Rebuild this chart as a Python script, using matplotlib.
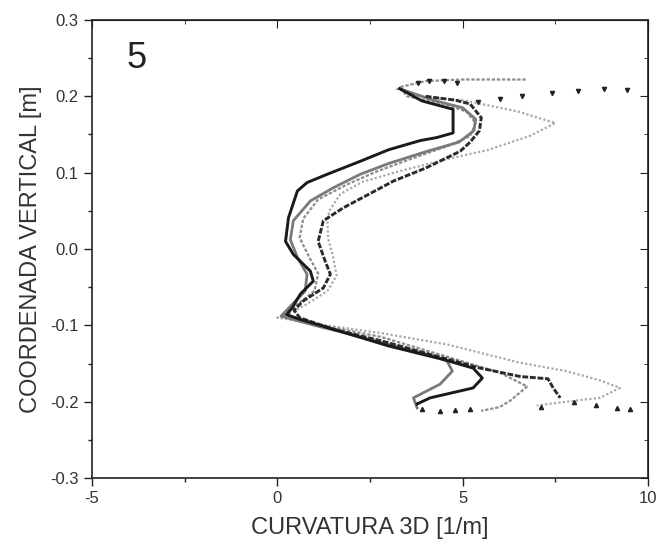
import matplotlib
matplotlib.use("Agg")
import matplotlib.pyplot as plt
from matplotlib.ticker import MultipleLocator, FormatStrFormatter

plt.rcParams.update({"font.family": ["Liberation Sans", "DejaVu Sans"]})

# curve 1 - black, leftmost in the middle section
c1_x = [3.3, 3.9, 4.74, 4.74, 4.74, 4.3, 3.85, 3.0, 2.24, 1.35, 0.8, 0.54, 0.3, 0.22, 0.43, 0.89,
        0.97, 0.62, 0.4, 0.25, 0.6, 1.5, 3.0, 4.5, 5.28, 5.53, 5.28, 4.12, 3.77]
c1_y = [0.21, 0.194, 0.183, 0.167, 0.152, 0.146, 0.142, 0.13, 0.115, 0.098, 0.087, 0.076, 0.041, 0.01,
        -0.007, -0.029, -0.042, -0.059, -0.077, -0.086, -0.092, -0.105, -0.127, -0.145, -0.156,
        -0.169, -0.182, -0.195, -0.203]

# curve 2 - dark, rightmost in the middle section
c2_x = [4.0, 4.8, 5.2, 5.5, 5.45, 5.2, 4.93, 4.0, 3.13, 2.4, 1.78, 1.24, 1.1, 1.29, 1.43, 1.24,
        0.7, 0.45, 0.6, 1.5, 2.78, 4.12, 5.47, 6.55, 7.3, 7.44, 7.63]
c2_y = [0.2, 0.195, 0.19, 0.172, 0.155, 0.14, 0.128, 0.106, 0.089, 0.07, 0.054, 0.037, 0.01,
        -0.016, -0.033, -0.051, -0.068, -0.08, -0.09, -0.105, -0.12, -0.138, -0.156, -0.167,
        -0.17, -0.182, -0.195]

# curve 3 - grey
c3_x = [3.3, 4.2, 5.0, 5.35, 5.3, 4.9, 4.04, 3.0, 2.24, 1.5, 0.89, 0.43, 0.35, 0.55, 0.8, 0.75,
        0.35, 0.1, 1.0, 2.0, 3.0, 4.2, 4.58, 4.72, 4.39, 3.67, 3.77]
c3_y = [0.21, 0.195, 0.185, 0.17, 0.155, 0.14, 0.128, 0.112, 0.098, 0.08, 0.063, 0.037, 0.012,
        -0.012, -0.033, -0.055, -0.075, -0.088, -0.1, -0.112, -0.125, -0.14, -0.147, -0.16,
        -0.177, -0.195, -0.208]

# curve 4 - light grey, widest loops
c4_x = [3.2, 4.0, 5.0, 5.5, 6.5, 7.5, 6.8, 5.7, 4.6, 3.3, 2.3, 1.7, 1.4, 1.35, 1.37, 1.5, 1.6,
        1.35, 0.8, 0.3, 0.0, 1.3, 2.78, 4.58, 6.55, 7.8, 8.7, 9.24, 8.7, 7.8, 7.0]
c4_y = [0.21, 0.198, 0.195, 0.19, 0.18, 0.165, 0.148, 0.13, 0.118, 0.102, 0.088, 0.072, 0.05,
        0.037, 0.014, -0.01, -0.035, -0.055, -0.072, -0.085, -0.09, -0.1, -0.11, -0.125, -0.149,
        -0.16, -0.172, -0.182, -0.195, -0.2, -0.205]

# curve 5 - mid grey
c5_x = [6.7, 6.0, 5.0, 4.0, 3.3, 3.5, 4.5, 5.1, 5.35, 5.2, 4.6, 3.6, 2.7, 1.9, 1.1, 0.7, 0.6,
        0.85, 1.1, 1.0, 0.55, 0.2, 1.2, 2.78, 4.5, 6.0, 6.74, 6.3, 6.0, 5.5]
c5_y = [0.222, 0.222, 0.222, 0.22, 0.212, 0.2, 0.19, 0.18, 0.165, 0.148, 0.135, 0.118, 0.102,
        0.085, 0.065, 0.04, 0.015, -0.01, -0.032, -0.055, -0.072, -0.086, -0.1, -0.115, -0.14,
        -0.162, -0.18, -0.198, -0.207, -0.212]

# sparse black points at the ends
top_dots_x = [3.8, 4.1, 4.5, 4.85, 5.4, 6.0, 6.6, 7.4, 8.1, 8.8, 9.43]
top_dots_y = [0.218, 0.22, 0.22, 0.218, 0.192, 0.197, 0.2, 0.205, 0.207, 0.21, 0.208]
bot_dots_x = [3.9, 4.4, 4.8, 5.2, 7.1, 8.0, 8.6, 9.16, 9.5]
bot_dots_y = [-0.21, -0.212, -0.211, -0.21, -0.207, -0.2, -0.204, -0.208, -0.21]

fig = plt.figure(figsize=(6.64, 5.46), dpi=100)
ax = fig.add_axes([0.1386, 0.1245, 0.8374, 0.8389])

ax.plot(c4_x, c4_y, color="#a8a8a8", lw=1.6, linestyle=(0, (1, 1)))
ax.plot(c5_x, c5_y, color="#8c8c8c", lw=1.6, linestyle=(0, (1.5, 0.8)))
ax.plot(c3_x, c3_y, color="#7a7a7a", lw=2.0)
ax.plot(c2_x, c2_y, color="#2b2b2b", lw=2.1, linestyle=(0, (2, 0.6)))
ax.plot(c1_x, c1_y, color="#1a1a1a", lw=2.1)
ax.plot(top_dots_x, top_dots_y, ls="none", marker="v", ms=3, color="#222222")
ax.plot(bot_dots_x, bot_dots_y, ls="none", marker="^", ms=3, color="#222222")

ax.set_xlim(-5, 10)
ax.set_ylim(-0.3, 0.3)
ax.xaxis.set_major_locator(MultipleLocator(5))
ax.xaxis.set_minor_locator(MultipleLocator(2.5))
ax.yaxis.set_major_locator(MultipleLocator(0.1))
ax.yaxis.set_minor_locator(MultipleLocator(0.05))
ax.xaxis.set_major_formatter(FormatStrFormatter("%d"))
ax.yaxis.set_major_formatter(FormatStrFormatter("%.1f"))
plt.rcParams["axes.unicode_minus"] = False

# left / bottom ticks point outwards
ax.tick_params(which="both", direction="out", colors="#222222", labelcolor="#333333",
               labelsize=12, width=1.0, top=False, right=False)
ax.tick_params(which="major", length=6)
ax.tick_params(which="minor", length=3)

# top / right ticks point inwards
sec_x = ax.secondary_xaxis("top")
sec_x.xaxis.set_major_locator(MultipleLocator(5))
sec_x.xaxis.set_minor_locator(MultipleLocator(2.5))
sec_x.tick_params(which="both", direction="in", labeltop=False, colors="#222222")
sec_x.tick_params(which="major", length=6)
sec_x.tick_params(which="minor", length=3)
sec_y = ax.secondary_yaxis("right")
sec_y.yaxis.set_major_locator(MultipleLocator(0.1))
sec_y.yaxis.set_minor_locator(MultipleLocator(0.05))
sec_y.tick_params(which="both", direction="in", labelright=False, colors="#222222")
sec_y.tick_params(which="major", length=6)
sec_y.tick_params(which="minor", length=3)

for s in ax.spines.values():
    s.set_color("#222222")
    s.set_linewidth(1.2)

ax.set_xlabel("CURVATURA 3D [1/m]", fontsize=17, color="#333333", labelpad=8)
ax.set_ylabel("COORDENADA VERTICAL [m]", fontsize=17, color="#333333", labelpad=6)
ax.text(-3.8, 0.25, "5", fontsize=26, color="#222222", ha="center", va="center")

fig.savefig("out.png", dpi=100)
